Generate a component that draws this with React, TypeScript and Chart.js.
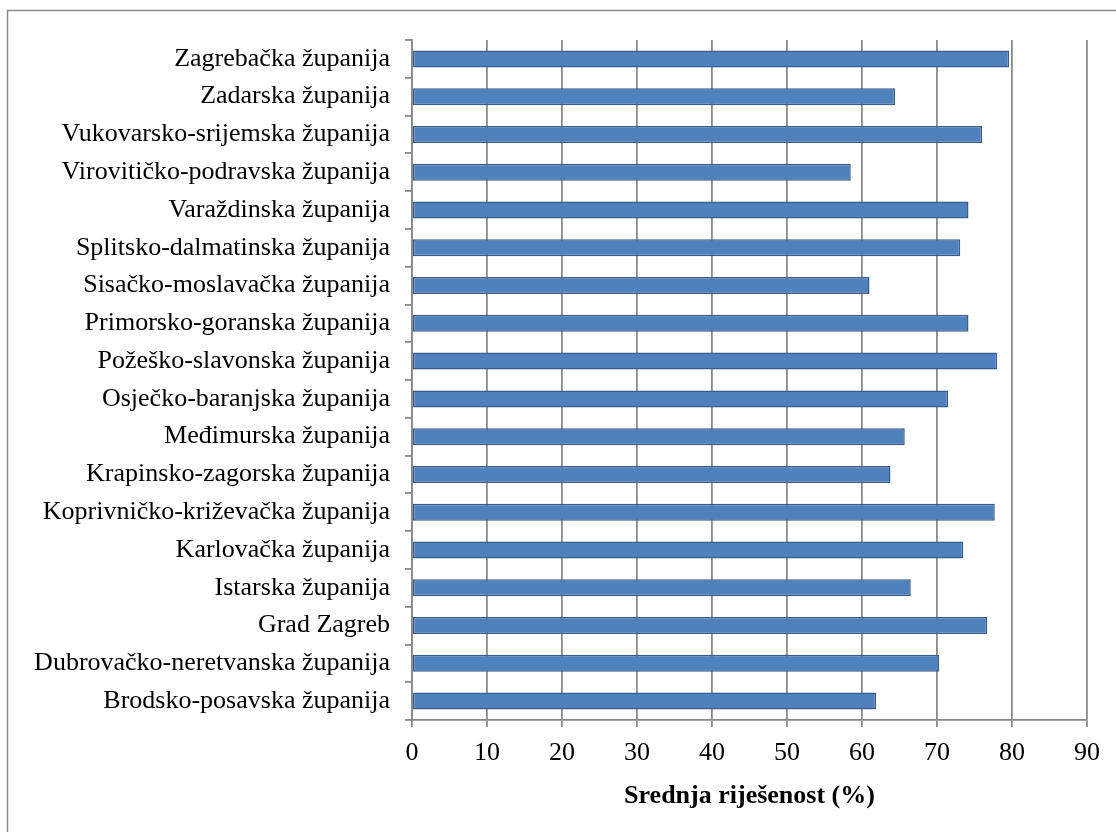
import React, { useEffect, useRef } from "react";
import { Chart, registerables } from "chart.js";

Chart.register(...registerables);

const categories: string[] = [
  "Zagrebačka županija",
  "Zadarska županija",
  "Vukovarsko-srijemska županija",
  "Virovitičko-podravska županija",
  "Varaždinska županija",
  "Splitsko-dalmatinska županija",
  "Sisačko-moslavačka županija",
  "Primorsko-goranska županija",
  "Požeško-slavonska županija",
  "Osječko-baranjska županija",
  "Međimurska županija",
  "Krapinsko-zagorska županija",
  "Koprivničko-križevačka županija",
  "Karlovačka županija",
  "Istarska županija",
  "Grad Zagreb",
  "Dubrovačko-neretvanska županija",
  "Brodsko-posavska županija",
];

const values: number[] = [
  79.6, 64.4, 76.0, 58.5, 74.2, 73.1, 61.0, 74.2, 78.0, 71.5, 65.7, 63.8,
  77.7, 73.5, 66.5, 76.7, 70.3, 61.9,
];

const xTicksMin = 0;
const xTicksMax = 90;
const xTicksStep = 10;
const xTitle = "Srednja riješenost (%)";

const FONT = "'Liberation Serif', 'Times New Roman', serif";
const GRID = "#8a8a8a";

const framePlugin = {
  id: "frame",
  beforeDraw(chart: any) {
    const ctx = chart.ctx;
    ctx.save();
    ctx.fillStyle = "#ffffff";
    ctx.fillRect(0, 0, chart.width, chart.height);
    ctx.strokeStyle = GRID;
    ctx.lineWidth = 1.5;
    ctx.strokeRect(7.5, 10.5, 1300, 1000);
    ctx.restore();
  },
};

export default function App() {
  const ref = useRef<HTMLCanvasElement | null>(null);

  useEffect(() => {
    if (!ref.current) return;
    const chart = new Chart(ref.current, {
      type: "bar",
      data: {
        labels: categories,
        datasets: [
          {
            data: values,
            backgroundColor: "#4F81BD",
            borderColor: "#385D8A",
            borderWidth: 1.5,
            borderSkipped: false,
            categoryPercentage: 1,
            barPercentage: 0.45,
          },
        ],
      },
      plugins: [framePlugin],
      options: {
        indexAxis: "y",
        animation: false,
        responsive: false,
        devicePixelRatio: 1,
        layout: { padding: { left: 0, top: 40, right: 29, bottom: 0 } },
        plugins: {
          legend: { display: false },
          tooltip: { enabled: false },
        },
        scales: {
          x: {
            type: "linear",
            min: xTicksMin,
            max: xTicksMax,
            ticks: {
              stepSize: xTicksStep,
              color: "#000",
              padding: 11,
              font: { family: FONT, size: 26 },
            },
            grid: {
              color: GRID,
              lineWidth: 1.8,
              tickLength: 7,
              drawTicks: true,
            },
            border: { color: GRID, width: 1.8 },
            title: {
              display: true,
              text: xTitle,
              color: "#000",
              font: { family: FONT, size: 26, weight: "bold" },
              padding: { top: 0, bottom: 20 },
            },
            afterFit(scale: any) {
              scale.height = 112;
            },
          },
          y: {
            type: "category",
            offset: true,
            ticks: {
              color: "#000",
              padding: 15,
              autoSkip: false,
              font: { family: FONT, size: 26 },
            },
            grid: {
              offset: true,
              drawOnChartArea: false,
              drawTicks: true,
              tickLength: 7,
              color: GRID,
              lineWidth: 1.8,
            },
            border: { color: GRID, width: 1.8 },
            afterFit(scale: any) {
              scale.width = 412;
            },
          },
        },
      },
    } as any);
    return () => chart.destroy();
  }, []);

  return (
    <div style={{ position: "absolute", left: 0, top: 0, width: 1116, height: 832, overflow: "hidden" }}>
      <canvas ref={ref} width={1116} height={832} style={{ display: "block" }} />
    </div>
  );
}
